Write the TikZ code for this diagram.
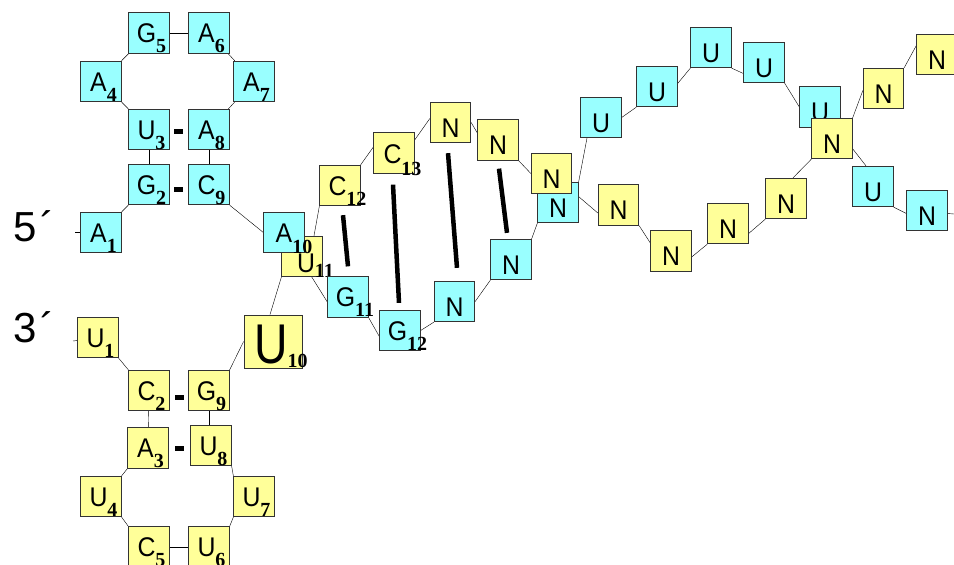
\documentclass[tikz,border=0pt]{standalone}
\usepackage{fontspec}
\setmainfont{Liberation Sans}
\newfontfamily\nucfont{Liberation Sans}[FakeStretch=0.92]
\newfontfamily\lserif{Liberation Serif}
\usetikzlibrary{calc,backgrounds}
\definecolor{cy}{HTML}{99FFFF}
\definecolor{ye}{HTML}{FFFF99}
\newcommand\subf{\lserif\bfseries\fontsize{20}{20}\selectfont}
% general label: letter, subscript, baseline drop, subscript drop
\newcommand\lab[4]{\raisebox{-#3pt}[0pt][0pt]{#1\rlap{\raisebox{-#4pt}{\subf #2}}}}
\newcommand\nuc[2]{\lab{#1}{#2}{9.7}{10}\hspace*{5pt}}
\newcommand\pl[1]{\raisebox{-14.5pt}[0pt][0pt]{#1}}
\tikzset{
 nbox/.style={draw=black!80, line width=0.8pt, minimum width=40.5pt, minimum height=40.5pt, inner sep=0pt, font=\nucfont\fontsize{27}{27}\selectfont},
 cyb/.style={nbox, fill=cy},
 yeb/.style={nbox, fill=ye},
 link/.style={line width=0.7pt, draw=black!85},
 hbond/.style={line width=4.5pt, draw=black},
 bp/.style={fill=black, minimum width=9pt, minimum height=5pt, inner sep=0pt},
 endlab/.style={font=\fontsize{42}{42}\selectfont, inner sep=0pt, anchor=base west},
}
\begin{document}
\begin{tikzpicture}[x=1pt,y=-1pt]
\useasboundingbox (0,0) rectangle (954,565);
\clip (0,0) rectangle (954,565);
% end labels
\node[endlab] (five) at (13,241) {5\kern4pt´};
\node[endlab] (three) at (13,342) {3\kern4pt´};
% upper hairpin (cyan)
\node[cyb] (a1) at (101,232.5) {\nuc{A}{1}};
\node[cyb] (g2) at (149,184.5) {\nuc{G}{2}};
\node[cyb] (u3) at (149,129.5) {\nuc{U}{3}};
\node[cyb] (a4) at (101,81.5) {\nuc{A}{4}};
\node[cyb] (g5) at (149,33) {\nuc{G}{5}};
\node[cyb] (a6) at (209,33) {\nuc{A}{6}};
\node[cyb] (a7) at (254,81.5) {\nuc{A}{7}};
\node[cyb] (a8) at (209,129.5) {\nuc{A}{8}};
\node[cyb] (c9) at (209,184.5) {\nuc{C}{9}};
% lower hairpin (yellow)
\node[yeb] (u1) at (98,337.5) {\nuc{U}{1}};
\node[yeb] (c2) at (149,390.5) {\nuc{C}{2}};
\node[yeb] (a3) at (148,448) {\nuc{A}{3}};
\node[yeb] (u4) at (101,496.5) {\nuc{U}{4}};
\node[yeb] (c5) at (149,547) {\nuc{C}{5}};
\node[yeb] (u6) at (209,547) {\nuc{U}{6}};
\node[yeb] (u7) at (254,496.5) {\nuc{U}{7}};
\node[yeb] (u8) at (211,445.5) {\nuc{U}{8}};
\node[yeb] (g9) at (209,390.5) {\nuc{G}{9}};
\node[yeb, minimum width=58pt, minimum height=53pt, font=\nucfont\fontsize{56}{56}\selectfont] (u10) at (273,341.5) {\lab{\scalebox{0.9}[1]{U}}{10}{21.5}{4}\hspace*{4pt}};
% junction
\node[yeb] (u11) at (302,256.5) {\hspace*{8pt}\lab{U}{11}{15.5}{5}};
\node[cyb] (a10) at (284,232.5) {\lab{A}{10}{9.5}{11}};
% helix, yellow strand
\node[yeb] (c12) at (340,185.5) {\nuc{C}{12}};
\node[yeb] (c13) at (394,153) {\lab{C}{13}{10}{12}\hspace*{3pt}};
\node[yeb] (n1) at (450.5,122.5) {\pl{N}};
\node[yeb] (n2) at (498,140) {\pl{N}};
% helix, cyan strand
\node[cyb] (g11) at (348,297) {\nuc{G}{11}};
\node[cyb] (g12) at (400,330.5) {\nuc{G}{12}};
\node[cyb] (nc1) at (454.5,301.5) {\pl{N}};
\node[cyb] (nc2) at (511,259.5) {\pl{N}};
\node[cyb] (nc3) at (558,202.5) {\pl{N}};
\node[yeb] (n3) at (551.5,173.5) {\pl{N}};
% right part
\node[cyb] (uu1) at (601,117.5) {\pl{U}};
\node[cyb] (uu2) at (657,86.5) {\pl{U}};
\node[cyb] (uu3) at (711,47.5) {\pl{U}};
\node[cyb] (uu4) at (764,62.5) {\pl{U}};
\node[cyb] (uu5) at (820,107) {\pl{U}};
\node[yeb] (nb1) at (618.5,205) {\pl{N}};
\node[yeb] (nb2) at (671,251) {\pl{N}};
\node[yeb] (nb3) at (728,223.5) {\pl{N}};
\node[yeb] (nb4) at (786,198.5) {\pl{N}};
\node[yeb] (ny) at (832,138.5) {\pl{N}};
\node[yeb] (ny2) at (883.5,88.5) {\pl{N}};
\node[yeb] (ny3) at (937,54.5) {\pl{N}};
\node[cyb] (ucr) at (873,186.5) {\pl{U}};
\node[cyb] (ncr) at (927,210.5) {\pl{N}};
% base-pair marks
\node[bp] (p1) at (178,131.5) {};
\node[bp] (p2) at (178,189) {};
\node[bp] (p3) at (179,397.5) {};
\node[bp] (p4) at (179,448) {};
% free ends
\coordinate (s5) at (75,232.5);
\coordinate (s3) at (73,341);
\coordinate (sr) at (954,214);
% helix bonds
\draw[hbond] ($(c12.south)+(3,9)$) -- ($(g11.north)+(0,-10)$);
\draw[hbond] ($(c13.south)+(-1,11)$) -- ($(g12.north)+(-1,-7)$);
\draw[hbond] ($(n1.south)+(-2.5,10)$) -- ($(nc1.north)+(2.5,-13)$);
\draw[hbond] ($(n2.south)+(1,8)$) -- ($(nc2.north)+(-4,-6)$);
% backbone
\begin{scope}[on background layer, link]
\draw (a1.west) -- (s5);
\draw (a1) -- (g2);
\draw (g2) -- (u3);
\draw (u3) -- (a4);
\draw (a4) -- (g5);
\draw (g5) -- (a6);
\draw (a6) -- (a7);
\draw (a7) -- (a8);
\draw (a8) -- (c9);
\draw (c9.south east) -- (a10.west);
\draw (a10) -- ($(g11.west)+(0,5)$);
\draw ($(u10.north)+(-3,0)$) -- (u11.south west);
\draw ($(u11.north)+(12,0)$) -- (c12.south west);
\draw (c12.north east) -- ($(c13.west)+(0,-6)$);
\draw ($(c13.east)+(0,-13)$) -- ($(n1.west)+(0,-4)$);
\draw (n1.east) -- ($(n2.west)+(0,-7)$);
\draw (n2.south east) -- (n3.west);
\draw (n3) -- ($(nb1.west)+(0,8)$);
\draw (nb1.south east) -- ($(nb2.west)+(0,-8)$);
\draw ($(nb2.east)+(0,6)$) -- (nb3.south west);
\draw ($(nb3.east)+(0,10)$) -- (nb4.south west);
\draw ($(nb4.north)+(7,0)$) -- (ny.south west);
\draw (ny.north east) -- ($(ny2.west)+(0,2)$);
\draw (ny2.north east) -- ($(ny3.west)+(0,-9)$);
\draw (g11.south east) -- ($(g12.west)+(0,6)$);
\draw (g12.east) -- (nc1.south west);
\draw (nc1.east) -- (nc2.south west);
\draw (nc2.north east) -- (nc3.south west);
\draw (nc3.north east) -- ($(uu1.south)+(-14,0)$);
\draw (uu1.east) -- (uu2.south west);
\draw ($(uu2.east)+(0,-3)$) -- (uu3.south west);
\draw (uu3.south east) -- ($(uu4.west)+(0,11)$);
\draw (uu4.south east) -- (uu5.west);
\draw (uu5) -- ($(ucr.north)+(-7,0)$);
\draw (ucr.south east) -- ($(ncr.west)+(0,3)$);
\draw ($(ncr.east)+(0,3)$) -- (sr);
\draw ($(u1.west)+(0,3)$) -- (s3);
\draw (u1.south east) -- (c2.north west);
\draw (c2) -- (a3);
\draw (g9.south) -- (g9.south |- u8.north);
\draw (a3.south west) -- (u4.north east);
\draw (u8.south east) -- (u7.north west);
\draw (u4.south east) -- (c5.north west);
\draw (u7.south west) -- (u6.north east);
\draw (c5) -- (u6);
\draw (g9.north east) -- (u10.west);
\end{scope}
\end{tikzpicture}
\end{document}
